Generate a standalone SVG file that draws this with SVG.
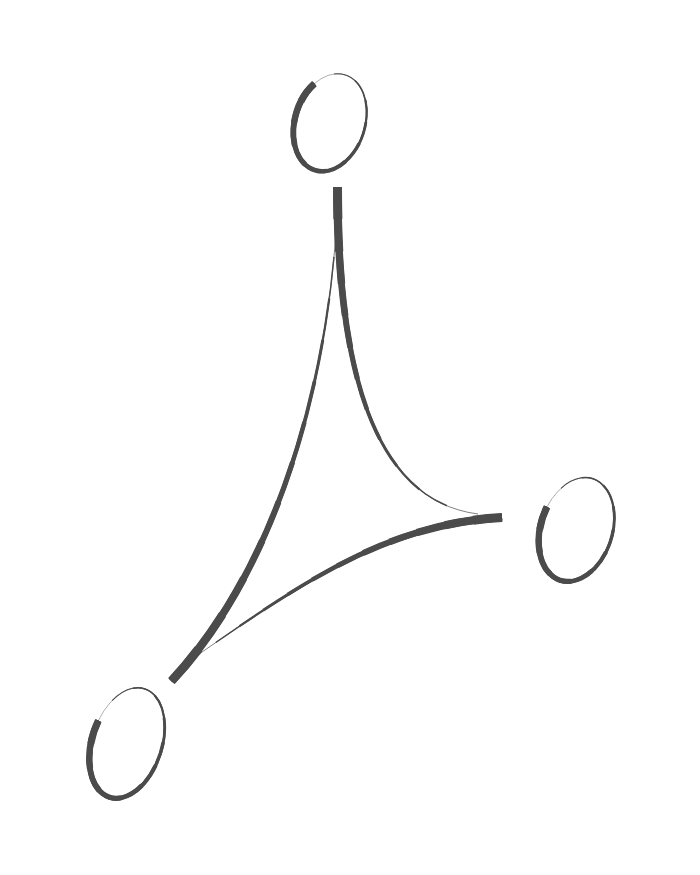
<svg xmlns="http://www.w3.org/2000/svg" xmlns:xlink="http://www.w3.org/1999/xlink" width="700" height="875" viewBox="0 0 700 875">
<style>
use{fill:none;stroke:#4b4b4b;stroke-linecap:butt}
.d1{stroke-dasharray:100 300}.d2{stroke-dasharray:91.67 300}.d3{stroke-dasharray:83.33 300}.d4{stroke-dasharray:75 300}
.d5{stroke-dasharray:66.67 300}.d6{stroke-dasharray:58.33 300}.d7{stroke-dasharray:50 300}.d8{stroke-dasharray:41.67 300}
.d9{stroke-dasharray:33.33 300}.d10{stroke-dasharray:25 300}.d11{stroke-dasharray:16.67 300}.d12{stroke-dasharray:8.33 300}
.e .d1{stroke-width:.7}.e .d2{stroke-width:1.45}.e .d3{stroke-width:2.21}.e .d4{stroke-width:2.96}
.e .d5{stroke-width:3.72}.e .d6{stroke-width:4.47}.e .d7{stroke-width:5.23}.e .d8{stroke-width:5.98}
.e .d9{stroke-width:6.74}.e .d10{stroke-width:7.49}.e .d11{stroke-width:8.25}.e .d12{stroke-width:9}
.n .d1{stroke-width:.4}.n .d2{stroke-width:1}.n .d3{stroke-width:1.6}.n .d4{stroke-width:2.2}
.n .d5{stroke-width:2.8}.n .d6{stroke-width:3.4}.n .d7{stroke-width:4}.n .d8{stroke-width:4.6}
.n .d9{stroke-width:5.2}.n .d10{stroke-width:5.8}.n .d11{stroke-width:6.4}.n .d12{stroke-width:7}
</style>
<defs>
<path id="p1" pathLength="100" d="M337.5,187 C337.5,355 368,500 478,514"/>
<path id="p2" pathLength="100" d="M502,517.5 C382,524 293,589 192,659"/>
<path id="p3" pathLength="100" d="M171.5,681 C273.5,571.5 328,390 337,215"/>
<path id="rt" pathLength="100" d="M-26.9,-32 A35,50 0 0 0 26.9,32 A35,50 0 0 0 -26.9,-32"/>
<path id="rr" pathLength="100" d="M-35.06,-12.24 A36,54 0 0 0 35.06,12.24 A36,54 0 0 0 -35.06,-12.24"/>
<path id="rl" pathLength="100" d="M-34.17,-12.34 A35,57 0 0 0 34.17,12.34 A35,57 0 0 0 -34.17,-12.34"/>
</defs>
<rect width="700" height="875" fill="#fff"/>
<g id="connectors" class="e">
<g id="edge-top-right">
<use href="#p1" class="d1"/><use href="#p1" class="d2"/><use href="#p1" class="d3"/><use href="#p1" class="d4"/><use href="#p1" class="d5"/><use href="#p1" class="d6"/><use href="#p1" class="d7"/><use href="#p1" class="d8"/><use href="#p1" class="d9"/><use href="#p1" class="d10"/><use href="#p1" class="d11"/><use href="#p1" class="d12"/>
</g>
<g id="edge-right-left">
<use href="#p2" class="d1"/><use href="#p2" class="d2"/><use href="#p2" class="d3"/><use href="#p2" class="d4"/><use href="#p2" class="d5"/><use href="#p2" class="d6"/><use href="#p2" class="d7"/><use href="#p2" class="d8"/><use href="#p2" class="d9"/><use href="#p2" class="d10"/><use href="#p2" class="d11"/><use href="#p2" class="d12"/>
</g>
<g id="edge-left-top">
<use href="#p3" class="d1"/><use href="#p3" class="d2"/><use href="#p3" class="d3"/><use href="#p3" class="d4"/><use href="#p3" class="d5"/><use href="#p3" class="d6"/><use href="#p3" class="d7"/><use href="#p3" class="d8"/><use href="#p3" class="d9"/><use href="#p3" class="d10"/><use href="#p3" class="d11"/><use href="#p3" class="d12"/>
</g>
</g>
<g id="node-top" class="n" transform="translate(330,122.5) rotate(18)">
<use href="#rt" class="d1"/><use href="#rt" class="d2"/><use href="#rt" class="d3"/><use href="#rt" class="d4"/><use href="#rt" class="d5"/><use href="#rt" class="d6"/><use href="#rt" class="d7"/><use href="#rt" class="d8"/><use href="#rt" class="d9"/><use href="#rt" class="d10"/><use href="#rt" class="d11"/><use href="#rt" class="d12"/>
</g>
<g id="node-right" class="n" transform="translate(576.5,529.5) rotate(18)">
<use href="#rr" class="d1"/><use href="#rr" class="d2"/><use href="#rr" class="d3"/><use href="#rr" class="d4"/><use href="#rr" class="d5"/><use href="#rr" class="d6"/><use href="#rr" class="d7"/><use href="#rr" class="d8"/><use href="#rr" class="d9"/><use href="#rr" class="d10"/><use href="#rr" class="d11"/><use href="#rr" class="d12"/>
</g>
<g id="node-left" class="n" transform="translate(127,743) rotate(18)">
<use href="#rl" class="d1"/><use href="#rl" class="d2"/><use href="#rl" class="d3"/><use href="#rl" class="d4"/><use href="#rl" class="d5"/><use href="#rl" class="d6"/><use href="#rl" class="d7"/><use href="#rl" class="d8"/><use href="#rl" class="d9"/><use href="#rl" class="d10"/><use href="#rl" class="d11"/><use href="#rl" class="d12"/>
</g>
</svg>
